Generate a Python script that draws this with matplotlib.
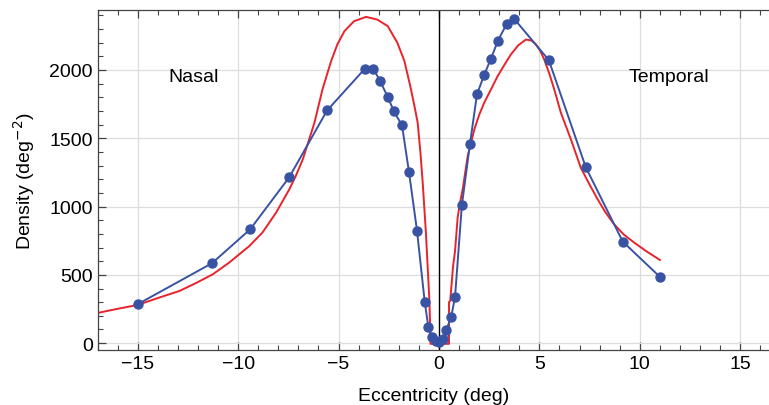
import numpy as np
import matplotlib
matplotlib.use("Agg")
import matplotlib.pyplot as plt
from matplotlib.ticker import MultipleLocator

plt.rcParams['font.family'] = ['Liberation Sans', 'DejaVu Sans']

# measured cone density (blue points)
ecc_data = [-15.0, -11.3, -9.4, -7.46, -5.57, -3.68, -3.28, -2.94, -2.54, -2.24,
            -1.84, -1.49, -1.09, -0.71, -0.53, -0.36, -0.16, 0.0, 0.2, 0.36,
            0.61, 0.8, 1.14, 1.54, 1.89, 2.24, 2.59, 2.94, 3.38, 3.73,
            5.47, 7.31, 9.15, 11.0]
dens_data = [285, 585, 833, 1213, 1703, 2010, 2010, 1922, 1798, 1696,
             1594, 1250, 819, 303, 119, 46, 15, 5, 34, 95,
             192, 338, 1009, 1455, 1820, 1959, 2083, 2215, 2339, 2376,
             2071, 1287, 743, 485]

# model fit (red curve)
ecc_fit = [-17.06, -16.08, -14.99, -13.92, -12.92, -12.11, -11.26, -10.44, -9.44, -8.79,
           -8.11, -7.45, -7.13, -6.78, -6.2, -5.8, -5.37, -5.06, -4.71, -4.23,
           -3.63, -3.07, -2.55, -2.07, -1.72, -1.41, -1.2, -1.06, -0.92, -0.81,
           -0.65, -0.48, -0.43, -0.42, 0.5, 0.5, 0.56, 0.7, 0.8, 0.93,
           1.05, 1.18, 1.43, 1.76, 2.0, 2.25, 2.6, 2.92, 3.25, 3.58,
           3.95, 4.33, 4.6, 4.83, 5.04, 5.24, 5.5, 5.74, 6.07, 6.57,
           7.06, 7.5, 7.9, 8.3, 8.72, 9.2, 9.72, 10.35, 11.0]
dens_fit = [219, 249, 280, 334, 382, 439, 504, 590, 711, 809,
            955, 1126, 1223, 1345, 1613, 1857, 2064, 2186, 2283, 2356,
            2388, 2368, 2320, 2198, 2064, 1869, 1720, 1613, 1390, 1175,
            809, 322, 78, -5, -5, 300, 309, 560, 675, 919,
            1030, 1126, 1369, 1564, 1670, 1759, 1860, 1954, 2035, 2113,
            2180, 2222, 2215, 2186, 2140, 2076, 1970, 1857, 1686, 1491,
            1284, 1160, 1053, 955, 870, 795, 736, 670, 609]

fig = plt.figure(figsize=(7.69, 4.06), dpi=100)
ax = fig.add_axes([0.1268, 0.1355, 0.875, 0.838])

ax.axvline(0, color='black', lw=1.0, zorder=1)
ax.plot(ecc_fit, dens_fit, color='#e8232b', lw=1.4, zorder=2)
ax.plot(ecc_data, dens_data, color='#3953a4', lw=1.4, marker='o',
        markersize=6.5, zorder=3)

ax.set_xlim(-17, 16.5)
ax.set_ylim(-50, 2440)
ax.xaxis.set_major_locator(MultipleLocator(5))
ax.xaxis.set_minor_locator(MultipleLocator(1))
ax.yaxis.set_major_locator(MultipleLocator(500))
ax.yaxis.set_minor_locator(MultipleLocator(100))
ax.grid(True, which='major', color='#dddddd', lw=0.9, zorder=0)
ax.set_axisbelow(True)

ax.tick_params(which='both', direction='in', top=True, right=False,
               colors='#444444', labelcolor='black', labelsize=14)
ax.tick_params(which='major', length=6, width=0.9)
ax.tick_params(which='minor', length=3.5, width=0.8)
ax.spines['right'].set_visible(False)
for s in ['left', 'bottom', 'top']:
    ax.spines[s].set_color('#444444')
    ax.spines[s].set_linewidth(0.9)

ax.set_xlabel('Eccentricity (deg)', fontsize=14, labelpad=11)
ax.set_ylabel('Density (deg$^{-2}$)', fontsize=14, labelpad=9)

ax.text(-12.2, 1950, 'Nasal', fontsize=14, ha='center', va='center')
ax.text(11.45, 1950, 'Temporal', fontsize=14, ha='center', va='center')

fig.savefig('out.png', dpi=100)
